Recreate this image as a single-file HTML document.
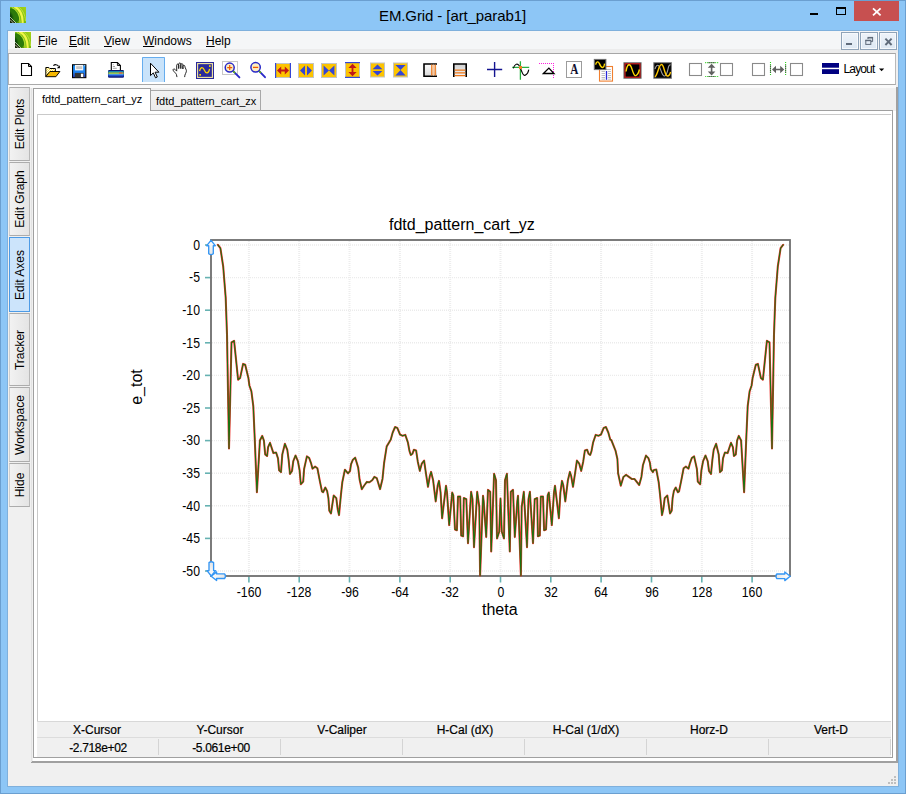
<!DOCTYPE html>
<html><head><meta charset="utf-8"><title>EM.Grid - [art_parab1]</title>
<style>
html,body{margin:0;padding:0;}
body{width:906px;height:794px;overflow:hidden;background:#8dc6f6;font-family:"Liberation Sans",sans-serif;color:#000;position:relative;}
.a{position:absolute;box-sizing:border-box;}
.t{position:absolute;white-space:pre;line-height:1;}
svg{position:absolute;overflow:visible;}
.vt{position:absolute;left:8.5px;width:21px;box-sizing:border-box;border:1px solid #acacac;border-left-color:#cfcfcf;border-right-color:#b8b8b8;background:linear-gradient(90deg,#f2f2f2,#e4e4e4);}
.vt span{position:absolute;left:calc(50% + 1px);top:50%;white-space:pre;font-size:12px;line-height:1;transform:translate(-50%,-50%) rotate(-90deg);}
.hd{position:absolute;top:724px;-webkit-text-stroke:0.2px #000;font-size:12px;line-height:1;white-space:pre;transform:translateX(-50%);}
.vl{position:absolute;top:742px;-webkit-text-stroke:0.2px #000;font-size:12px;line-height:1;white-space:pre;transform:translateX(-50%);letter-spacing:-0.35px}
.sep{position:absolute;top:739px;width:1px;height:16px;background:#d4d4d4;}
</style></head><body>

<div class="a" style="left:0;top:0;width:906px;height:794px;border:1px solid #6b9fd0;"></div>
<div class="a" style="left:7px;top:30px;width:892px;height:757px;background:#f0f0f0;border:1px solid #7fb0dc;"></div>
<div class="t" style="left:379px;top:8px;font-size:15px;letter-spacing:-0.1px;">EM.Grid - [art_parab1]</div>
<div class="a" style="left:854px;top:1px;width:45px;height:20px;background:#c75050;"></div>
<svg style="left:871px;top:6px" width="12" height="11" viewBox="0 0 12 11"><path d="M2 2.4L9.6 9.4M9.6 2.4L2 9.4" stroke="#fff" stroke-width="1.8" fill="none"/></svg>
<div class="a" style="left:836px;top:7px;width:10px;height:8px;border:1px solid #000;border-top-width:2px;"></div>
<div class="a" style="left:810px;top:12.5px;width:8px;height:2px;background:#000;"></div>
<svg style="left:10px;top:7px" width="16" height="16" viewBox="0 0 16 16">
<defs><linearGradient id="g1" x1="0" y1="1" x2="1" y2="0"><stop offset="0" stop-color="#3f7a08"/><stop offset="0.55" stop-color="#7fc010"/><stop offset="1" stop-color="#a8d418"/></linearGradient>
<radialGradient id="r1" cx="0.1" cy="0.6" r="0.55"><stop offset="0" stop-color="#052a05"/><stop offset="0.7" stop-color="#0c4408"/><stop offset="1" stop-color="#2c7a0a"/></radialGradient>
<clipPath id="c1"><rect width="16" height="16"/></clipPath></defs>
<g clip-path="url(#c1)"><rect width="16" height="16" fill="url(#g1)"/>
<circle cx="1.5" cy="9.5" r="8.2" fill="url(#r1)"/>
<path d="M4.5 -0.5C10 2.5 13 9 12.6 16.5" stroke="#f2f64a" stroke-width="2.2" fill="none"/>
<path d="M2 0.5C7.5 3 10.4 9 10 16.5" stroke="#b4de2c" stroke-width="1.3" fill="none"/>
<path d="M8 -0.5C12.5 2.5 15.5 8 15.4 14" stroke="#d2ec50" stroke-width="0.9" fill="none" opacity="0.8"/>
<path d="M0 10.5L5.5 16H0Z" fill="#1c2a0c"/>
<path d="M0 10L6 16M0 12.6L3.4 16" stroke="#e8f0d8" stroke-width="0.7" fill="none"/>
</g></svg>
<div class="a" style="left:8px;top:31px;width:890px;height:18px;background:#f5f6f7;"></div><div class="a" style="left:8px;top:49px;width:890px;height:4px;background:#ececec;"></div>
<svg style="left:15px;top:32px" width="16" height="16" viewBox="0 0 16 16">
<defs><linearGradient id="g2" x1="0" y1="1" x2="1" y2="0"><stop offset="0" stop-color="#3f7a08"/><stop offset="0.55" stop-color="#7fc010"/><stop offset="1" stop-color="#a8d418"/></linearGradient>
<radialGradient id="r2" cx="0.1" cy="0.6" r="0.55"><stop offset="0" stop-color="#052a05"/><stop offset="0.7" stop-color="#0c4408"/><stop offset="1" stop-color="#2c7a0a"/></radialGradient>
<clipPath id="c2"><rect width="16" height="16"/></clipPath></defs>
<g clip-path="url(#c2)"><rect width="16" height="16" fill="url(#g2)"/>
<circle cx="1.5" cy="9.5" r="8.2" fill="url(#r2)"/>
<path d="M4.5 -0.5C10 2.5 13 9 12.6 16.5" stroke="#f2f64a" stroke-width="2.2" fill="none"/>
<path d="M2 0.5C7.5 3 10.4 9 10 16.5" stroke="#b4de2c" stroke-width="1.3" fill="none"/>
<path d="M8 -0.5C12.5 2.5 15.5 8 15.4 14" stroke="#d2ec50" stroke-width="0.9" fill="none" opacity="0.8"/>
<path d="M0 10.5L5.5 16H0Z" fill="#1c2a0c"/>
<path d="M0 10L6 16M0 12.6L3.4 16" stroke="#e8f0d8" stroke-width="0.7" fill="none"/>
</g></svg>
<div class="t" style="left:38px;top:35px;font-size:12px;"><u>F</u>ile</div>
<div class="t" style="left:69px;top:35px;font-size:12px;"><u>E</u>dit</div>
<div class="t" style="left:104px;top:35px;font-size:12px;"><u>V</u>iew</div>
<div class="t" style="left:143px;top:35px;font-size:12px;"><u>W</u>indows</div>
<div class="t" style="left:206px;top:35px;font-size:12px;"><u>H</u>elp</div>
<div class="a" style="left:841px;top:32px;width:18px;height:18px;border:1px solid #8fa3b8;background:linear-gradient(#eef3f9,#dde8f3);box-shadow:inset 0 0 0 1px #f6f9fc;"></div>
<div class="a" style="left:860px;top:32px;width:18px;height:18px;border:1px solid #8fa3b8;background:linear-gradient(#eef3f9,#dde8f3);box-shadow:inset 0 0 0 1px #f6f9fc;"></div>
<div class="a" style="left:879px;top:32px;width:18px;height:18px;border:1px solid #8fa3b8;background:linear-gradient(#eef3f9,#dde8f3);box-shadow:inset 0 0 0 1px #f6f9fc;"></div>
<div class="a" style="left:846px;top:43px;width:6px;height:2px;background:#5f6b7a;"></div>
<svg style="left:864px;top:36px" width="10" height="10" viewBox="0 0 10 10"><path d="M4 3V1.8H8.6V5.6H7" stroke="#5f6b7a" stroke-width="1" fill="none"/><path d="M3.5 1.6H9.1" stroke="#5f6b7a" stroke-width="1.4"/><rect x="1.8" y="4.6" width="5" height="3.8" fill="none" stroke="#5f6b7a" stroke-width="1"/><path d="M1.3 4.4H7.3" stroke="#5f6b7a" stroke-width="1.4"/></svg>
<svg style="left:884px;top:37px" width="9" height="9" viewBox="0 0 9 9"><path d="M1.4 1.6L7.6 8M7.6 1.6L1.4 8" stroke="#5f6b7a" stroke-width="1.9" fill="none"/></svg>
<div class="a" style="left:8px;top:53px;width:888px;height:32px;background:#fff;border-top:1px solid #a6a6a6;border-bottom:1px solid #a9a9a9;border-right:1px solid #b9b9b9;border-left:1px solid #b4b4b4;"></div>
<div class="a" style="left:8px;top:85px;width:888px;height:3px;background:#fafafa;"></div>
<svg style="left:0;top:0" width="906" height="90" viewBox="0 0 906 90">
<path d="M21.5 63.5H28.5L31.5 66.5V75.5H21.5Z" fill="#fff" stroke="#000" stroke-width="1.1"/><path d="M28.5 63.5V66.5H31.5" fill="none" stroke="#000" stroke-width="1"/>
<defs><pattern id="chk" width="2" height="2" patternUnits="userSpaceOnUse"><rect width="2" height="2" fill="#ffe23c"/><rect width="1" height="1" fill="#fff"/><rect x="1" y="1" width="1" height="1" fill="#fff"/></pattern><linearGradient id="fl" x1="0" y1="0" x2="0" y2="1"><stop offset="0" stop-color="#1e98ff"/><stop offset="0.6" stop-color="#1e80f0"/><stop offset="1" stop-color="#2c38c4"/></linearGradient></defs>
<g transform="translate(45,64)"><path d="M0.8 12.6V3.5H3.8L4.8 4.5H10.4V8" fill="url(#chk)" stroke="#000" stroke-width="1"/><path d="M0.7 12.7L4.9 7.5H14.9L10.9 12.7Z" fill="#f6b800" stroke="#000" stroke-width="0.95" stroke-linejoin="miter"/><path d="M8.4 1.7C9.6 0.3 12.2 0.2 13.5 2.2" fill="none" stroke="#000" stroke-width="1.1"/><path d="M14.9 1.2V4.3H11.8Z" fill="#000"/></g>
<g transform="translate(72,64)"><rect x="0.55" y="0.75" width="13.3" height="12.9" fill="url(#fl)" stroke="#000" stroke-width="1.1"/><rect x="3" y="0.9" width="8.2" height="5.5" fill="#f6f6f6"/><rect x="4.2" y="2.2" width="6" height="2.8" fill="#c6c6c6"/><rect x="12.2" y="1.2" width="1" height="1" fill="#d4eaff"/><rect x="2.8" y="8.9" width="8.9" height="4.5" fill="#363636"/><rect x="8.9" y="9.7" width="2.3" height="3.3" fill="#fff"/></g>
<g transform="translate(108,62)"><path d="M3.3 8.6V0.5H9.4L12.4 3.5V8.6" fill="#fff" stroke="#000" stroke-width="1.1"/><path d="M9.4 0.5V3.5H12.4" fill="none" stroke="#000" stroke-width="0.9"/><path d="M4.8 2.7H5.8M4.8 4.5H7M4.8 6.3H8.8" stroke="#9a9a9a" stroke-width="0.9"/><rect x="0" y="7.9" width="16" height="7.9" rx="1.3" fill="#0e1870"/><rect x="0.3" y="9.3" width="15.4" height="1.1" fill="#18b8cc"/><rect x="0.3" y="10.4" width="15.4" height="1.5" fill="#b4dc40"/><rect x="11" y="10.4" width="3.4" height="1.2" fill="#e84848"/><rect x="0.3" y="11.9" width="15.4" height="1" fill="#58acf0"/><rect x="0.3" y="12.9" width="15.4" height="1.5" fill="#2252d4"/></g>
<rect x="142" y="57" width="23" height="25" fill="#c9e3fa"/><path d="M142.5 82V57.5H164.5V82" fill="none" stroke="#66adee" stroke-width="1"/>
<path d="M150.5 63.2V75.6L153.3 72.9L155.5 77.8L157.3 77L155.1 72.2H158.9Z" fill="#fff" stroke="#000" stroke-width="1" stroke-linejoin="miter"/>
<g transform="translate(172,62)" fill="#fff" stroke="#1a1a1a" stroke-width="0.95" stroke-linejoin="round" stroke-linecap="round"><path d="M4.9 14.7L4.4 12.4C3.6 10.8 1.7 9.7 1.1 8.2C0.8 7.1 2.0 6.5 2.9 7.3L4.7 9.1V3.2C4.7 1.7 6.7 1.7 6.7 3.2V6.6V2.1C6.7 0.6 8.8 0.6 8.8 2.1V6.6V2.7C8.8 1.3 10.9 1.3 10.9 2.7V7V4.4C10.9 3.0 12.9 3.0 12.9 4.4C13.1 6.6 14.9 7.6 14.3 9.8C13.9 11.2 13.1 12.2 12.9 13.2L12.7 14.7"/></g>
<g transform="translate(196,62)"><rect x="0" y="0" width="18" height="17" fill="#2a2a9c"/><rect x="1.6" y="1.6" width="14.8" height="13.8" fill="none" stroke="#f6eaa0" stroke-width="1.1"/><path d="M3.6 9.2C4.4 4.6 6.8 4.4 8.4 8.2C10 12 12.4 12.2 13.6 6.8" fill="none" stroke="#ffd800" stroke-width="1.25"/><rect x="13" y="3.2" width="1.7" height="1.7" fill="#ffd800"/><rect x="3.3" y="12" width="1.7" height="1.7" fill="#ffd800"/></g>
<rect x="222.5" y="61.5" width="15" height="13" fill="#fff" stroke="#c8c8c8" stroke-width="1"/>
<path d="M233.2 71.2L239.4 77.4" stroke="#2a2ac8" stroke-width="1.9" stroke-linecap="round"/><path d="M233 71L235 73" stroke="#60c000" stroke-width="1.5"/>
<circle cx="229.7" cy="67.6" r="4.5" fill="#fdeec0" stroke="#2828c8" stroke-width="1.5"/>
<path d="M227.2 67.6H232.2M229.7 65.1V70.1" stroke="#f05a00" stroke-width="1.2"/>
<path d="M259.2 71.2L265 77.2" stroke="#2a2ac8" stroke-width="1.9" stroke-linecap="round"/><path d="M258.8 70.8L260.8 72.8" stroke="#60c000" stroke-width="1.5"/>
<circle cx="255.6" cy="67.3" r="4.7" fill="#fdeec0" stroke="#2828c8" stroke-width="1.5"/>
<path d="M253 67.4H258.2" stroke="#f05a00" stroke-width="1.3"/>
<rect x="275" y="63" width="16" height="15" fill="#c4c4c4"/><rect x="276" y="64" width="14" height="13" fill="#fdc400"/><rect x="275" y="63" width="1.2" height="15" fill="#3446d6"/><rect x="289.8" y="63" width="1.2" height="15" fill="#3446d6"/><path d="M277 70.5L281.2 66.4V69.6H284.8V66.4L289 70.5L284.8 74.6V71.4H281.2V74.6Z" fill="#c01818"/>
<rect x="298" y="63" width="16" height="15" fill="#c4c4c4"/><rect x="299" y="64" width="14" height="13" fill="#fdc400"/><path d="M300 70.5L305 65.6V75.4Z M312 70.5L307 65.6V75.4Z" fill="#3446d6"/>
<rect x="321" y="63" width="16" height="15" fill="#c4c4c4"/><rect x="322" y="64" width="14" height="13" fill="#fdc400"/><path d="M323.6 65.4L329 70.5L323.6 75.6Z M334.4 65.4L329 70.5L334.4 75.6Z" fill="#3446d6"/>
<rect x="345" y="62" width="15" height="16" fill="#c4c4c4"/><rect x="346" y="63" width="13" height="14" fill="#fdc400"/><rect x="345" y="62" width="15" height="1.2" fill="#3446d6"/><rect x="345" y="76.8" width="15" height="1.2" fill="#3446d6"/><path d="M352.5 63.8L356.6 68V68H353.4V72H356.6L352.5 76.2L348.4 72H351.6V68H348.4Z" fill="#c01818"/>
<rect x="370" y="62.5" width="15" height="15" fill="#c4c4c4"/><rect x="371" y="63.5" width="13" height="13" fill="#fdc400"/><path d="M377.5 64.6L382.4 69.2H372.6Z M377.5 75.6L382.4 71H372.6Z" fill="#3446d6"/>
<rect x="393" y="62.5" width="15" height="15" fill="#c4c4c4"/><rect x="394" y="63.5" width="13" height="13" fill="#fdc400"/><path d="M395.4 65H405.6L400.5 70Z M395.4 75.4H405.6L400.5 70Z" fill="#3446d6"/>
<defs><linearGradient id="gv" x1="0" y1="0" x2="0" y2="1"><stop offset="0" stop-color="#fff"/><stop offset="1" stop-color="#d8d8d8"/></linearGradient><linearGradient id="gh" x1="0" y1="0" x2="0" y2="1"><stop offset="0" stop-color="#d0d0d0"/><stop offset="1" stop-color="#f4f4f4"/></linearGradient></defs>
<rect x="424" y="64" width="13" height="12" fill="url(#gv)"/><path d="M437 64H424V76.2H437" fill="none" stroke="#000" stroke-width="1.6"/><path d="M431.8 64.6V75.6M435.2 64.6V75.6" stroke="#f07818" stroke-width="1.3"/><path d="M433.5 64.6V75.6" stroke="#f9c9a0" stroke-width="1"/>
<rect x="454" y="64" width="12" height="12.5" fill="url(#gh)"/><path d="M453.8 77V64H466.2V77" fill="none" stroke="#000" stroke-width="1.6"/><path d="M454.6 70.1H465.4M454.6 72.9H465.4M454.6 75.6H465.4" stroke="#f07818" stroke-width="1.2"/>
<path d="M487 69.5H502.2M494.6 62V77" stroke="#141490" stroke-width="1.4"/>
<path d="M520.4 61.3V79.8M512.2 67.3H529.2" stroke="#28b040" stroke-width="1.3"/><path d="M513.3 68.4C514.6 64.4 517.2 62.6 519.2 65.8C521.6 69.6 522.6 76.6 525.2 75.2C527.2 74.2 528.4 72 528.8 69.6" fill="none" stroke="#000" stroke-width="1.05"/><rect x="519" y="66" width="3" height="3" fill="#f08020"/>
<path d="M539 63.5H554" stroke="#ff20e0" stroke-width="1" stroke-dasharray="1,1"/><path d="M553.5 63V78" stroke="#ff20e0" stroke-width="1" stroke-dasharray="1,1"/><path d="M543.4 73.5L548.9 68.1L554 73.5Z" fill="#fff" stroke="#000" stroke-width="1.3" stroke-linejoin="miter"/>
<rect x="566.5" y="61.5" width="15" height="16" fill="#fff" stroke="#9c9c9c" stroke-width="1"/>
<text transform="translate(574.2,73.7) scale(0.8,1)" x="0" y="0" font-family="Liberation Serif" font-weight="bold" font-size="14" text-anchor="middle" fill="#101030">A</text>
<rect x="599.5" y="66.5" width="13" height="14.6" fill="#fff" stroke="#f08030" stroke-width="1.1"/><path d="M601.5 71.5H605M601.5 73.5H605M601.5 75.5H605M601.5 77.5H605M601.5 79.2H605M608 71.5H611M608 73.5H611M608 75.5H611M608 77.5H611M608 79.2H611M603 69.5H611" stroke="#b8b8b8" stroke-width="0.9"/><path d="M606.5 71V79.8" stroke="#2828d8" stroke-width="1.3"/><rect x="594.3" y="59.4" width="11.6" height="10.2" fill="#000" stroke="#707070" stroke-width="1"/><path d="M595.6 64.6C596.4 61.4 598.2 61 599.4 63.6C600.6 66.4 601.4 68 603 67.4C604 67 604.4 65 604.6 63.6" fill="none" stroke="#ffd800" stroke-width="1.4"/>
<rect x="623.9" y="62.7" width="17.2" height="15.6" fill="#000" stroke="#808080" stroke-width="1"/><rect x="625" y="63.8" width="15" height="13.4" fill="none" stroke="#e02020" stroke-width="1.1"/><path d="M626 71.5C626.8 66 628.2 64.2 629.8 65C632 66 632.6 74 634.8 75.4C636.8 76.6 638.6 73 639.4 69.5" fill="none" stroke="#ffd800" stroke-width="1.4"/>
<rect x="653.8" y="62.7" width="17.6" height="15.6" fill="#000" stroke="#808080" stroke-width="1"/><path d="M655 69C656 65.4 657.4 64.6 658.6 65.6C660.6 67.4 661.4 74.4 663.8 75.8C665.8 76.8 667.6 72 668.4 67.4C668.8 65.6 669.6 64.6 670.6 65" fill="none" stroke="#a0a0a0" stroke-width="1.1"/><path d="M655 77C657 75 658.2 70 659.2 67.2C660.4 64 662 63.8 663 66C664.4 69 665 74.6 667 75.8C668.8 76.8 670 74 670.6 72" fill="none" stroke="#ffc800" stroke-width="1.4"/>
<rect x="689.5" y="63.5" width="12" height="12" fill="#fff" stroke="#8a8a8a" stroke-width="1.1"/>
<rect x="720.5" y="63.5" width="12" height="12" fill="#fff" stroke="#8a8a8a" stroke-width="1.1"/>
<rect x="752.5" y="63.5" width="12" height="12" fill="#fff" stroke="#8a8a8a" stroke-width="1.1"/>
<rect x="790.5" y="63.5" width="12" height="12" fill="#fff" stroke="#8a8a8a" stroke-width="1.1"/>
<path d="M705.2 62.6H718.4M705.2 76.5H718.4" stroke="#30d020" stroke-width="1.1" stroke-dasharray="1,1"/><path d="M708.5 62.6H715M708.5 76.5H715" stroke="#303030" stroke-width="1.1" stroke-dasharray="1,1"/><path d="M711.6 63.8L715.4 67.8H712.4V71.6H715.4L711.6 75.6L707.8 71.6H710.8V67.8H707.8Z" fill="#606060"/>
<path d="M770.5 62V75.5M785.6 62V75.5" stroke="#30d020" stroke-width="1.1" stroke-dasharray="1,1"/><path d="M770.5 65.5V72.5M785.6 65.5V72.5" stroke="#303030" stroke-width="1.1" stroke-dasharray="1,1"/><path d="M772 69.5L776 65.7V68.7H780.2V65.7L784.2 69.5L780.2 73.3V70.3H776V73.3Z" fill="#606060"/>
<rect x="822" y="63" width="17" height="4.7" fill="#000080"/><rect x="822" y="69.2" width="17" height="4.8" fill="#000080"/>
<path d="M879 68.4H884.2L881.6 71.2Z" fill="#000"/>
</svg>
<div class="t" style="left:843.5px;top:63px;font-size:12px;letter-spacing:-0.85px;">Layout</div>
<div class="vt" style="top:87px;height:74px;"><span>Edit Plots</span></div>
<div class="vt" style="top:162px;height:74px;"><span>Edit Graph</span></div>
<div class="vt" style="top:237px;height:75px;background:#cce4fb;border-color:#4d9be6;"><span>Edit Axes</span></div>
<div class="vt" style="top:313px;height:73px;"><span>Tracker</span></div>
<div class="vt" style="top:387px;height:75px;"><span>Workspace</span></div>
<div class="vt" style="top:463px;height:44px;"><span>Hide</span></div>
<div class="a" style="left:896px;top:87px;width:2px;height:676px;background:#a0a0a0;"></div>
<div class="a" style="left:31px;top:761px;width:867px;height:2px;background:#a0a0a0;"></div>
<div class="a" style="left:31px;top:88px;width:1px;height:674px;background:#e3e3e3;"></div>
<div class="a" style="left:33px;top:110px;width:860px;height:648px;background:#fff;border:1px solid #a0a0a0;"></div>
<div class="a" style="left:893px;top:111px;width:3px;height:650px;background:#fff;"></div>
<div class="a" style="left:33px;top:758px;width:863px;height:3px;background:#fff;"></div>
<div class="a" style="left:150px;top:90px;width:111px;height:21px;background:linear-gradient(#f3f3f3,#ebebeb);border:1px solid #a8a8a8;"></div>
<div class="t" style="left:156px;top:96px;font-size:11px;">fdtd_pattern_cart_zx</div>
<div class="a" style="left:33px;top:88px;width:118px;height:23px;background:#fff;border:1px solid #a0a0a0;border-bottom:none;"></div>
<div class="t" style="left:42px;top:94px;font-size:11px;">fdtd_pattern_cart_yz</div>
<div class="a" style="left:37px;top:114px;width:854px;height:607px;border-top:1px solid #c9c9c9;border-left:1px solid #c9c9c9;"></div>
<div class="a" style="left:37px;top:721px;width:854px;height:36px;background:#f0f0f0;border-top:1px solid #d8d8d8;"></div>
<div class="a" style="left:37px;top:737px;width:854px;height:1px;background:#dcdcdc;"></div>
<div class="hd" style="left:97px">X-Cursor</div>
<div class="hd" style="left:220px">Y-Cursor</div>
<div class="hd" style="left:342px">V-Caliper</div>
<div class="hd" style="left:465px">H-Cal (dX)</div>
<div class="hd" style="left:586px">H-Cal (1/dX)</div>
<div class="hd" style="left:709px">Horz-D</div>
<div class="hd" style="left:831px">Vert-D</div>
<div class="vl" style="left:98px">-2.718e+02</div>
<div class="vl" style="left:221px">-5.061e+00</div>
<div class="sep" style="left:158px"></div>
<div class="sep" style="left:280px"></div>
<div class="sep" style="left:402px"></div>
<div class="sep" style="left:524px"></div>
<div class="sep" style="left:646px"></div>
<div class="sep" style="left:768px"></div>
<div class="sep" style="left:890px"></div>
<svg style="left:888px;top:776px" width="8" height="8"><rect x="6" y="0" width="2" height="2" fill="#bfbfbf"/><rect x="3" y="3" width="2" height="2" fill="#bfbfbf"/><rect x="6" y="3" width="2" height="2" fill="#bfbfbf"/><rect x="0" y="6" width="2" height="2" fill="#bfbfbf"/><rect x="3" y="6" width="2" height="2" fill="#bfbfbf"/><rect x="6" y="6" width="2" height="2" fill="#bfbfbf"/></svg>
<svg style="left:0;top:0" width="906" height="794" viewBox="0 0 906 794"><defs><linearGradient id="ag" x1="0" y1="0" x2="0" y2="1"><stop offset="0" stop-color="#ffffff"/><stop offset="1" stop-color="#e4e4e4"/></linearGradient></defs>
<line x1="248.9" y1="241" x2="248.9" y2="575" stroke="#ededed" stroke-width="2" stroke-dasharray="1,1"/>
<line x1="248.9" y1="576" x2="248.9" y2="582.5" stroke="#66b2b2" stroke-width="1.6"/>
<line x1="299.2" y1="241" x2="299.2" y2="575" stroke="#ededed" stroke-width="2" stroke-dasharray="1,1"/>
<line x1="299.2" y1="576" x2="299.2" y2="582.5" stroke="#66b2b2" stroke-width="1.6"/>
<line x1="349.5" y1="241" x2="349.5" y2="575" stroke="#ededed" stroke-width="2" stroke-dasharray="1,1"/>
<line x1="349.5" y1="576" x2="349.5" y2="582.5" stroke="#66b2b2" stroke-width="1.6"/>
<line x1="399.9" y1="241" x2="399.9" y2="575" stroke="#ededed" stroke-width="2" stroke-dasharray="1,1"/>
<line x1="399.9" y1="576" x2="399.9" y2="582.5" stroke="#66b2b2" stroke-width="1.6"/>
<line x1="450.2" y1="241" x2="450.2" y2="575" stroke="#ededed" stroke-width="2" stroke-dasharray="1,1"/>
<line x1="450.2" y1="576" x2="450.2" y2="582.5" stroke="#66b2b2" stroke-width="1.6"/>
<line x1="500.5" y1="241" x2="500.5" y2="575" stroke="#ededed" stroke-width="2" stroke-dasharray="1,1"/>
<line x1="500.5" y1="576" x2="500.5" y2="582.5" stroke="#66b2b2" stroke-width="1.6"/>
<line x1="550.8" y1="241" x2="550.8" y2="575" stroke="#ededed" stroke-width="2" stroke-dasharray="1,1"/>
<line x1="550.8" y1="576" x2="550.8" y2="582.5" stroke="#66b2b2" stroke-width="1.6"/>
<line x1="601.1" y1="241" x2="601.1" y2="575" stroke="#ededed" stroke-width="2" stroke-dasharray="1,1"/>
<line x1="601.1" y1="576" x2="601.1" y2="582.5" stroke="#66b2b2" stroke-width="1.6"/>
<line x1="651.5" y1="241" x2="651.5" y2="575" stroke="#ededed" stroke-width="2" stroke-dasharray="1,1"/>
<line x1="651.5" y1="576" x2="651.5" y2="582.5" stroke="#66b2b2" stroke-width="1.6"/>
<line x1="701.8" y1="241" x2="701.8" y2="575" stroke="#ededed" stroke-width="2" stroke-dasharray="1,1"/>
<line x1="701.8" y1="576" x2="701.8" y2="582.5" stroke="#66b2b2" stroke-width="1.6"/>
<line x1="752.1" y1="241" x2="752.1" y2="575" stroke="#ededed" stroke-width="2" stroke-dasharray="1,1"/>
<line x1="752.1" y1="576" x2="752.1" y2="582.5" stroke="#66b2b2" stroke-width="1.6"/>
<line x1="212" y1="245.0" x2="789" y2="245.0" stroke="#ebebeb" stroke-width="1.4" stroke-dasharray="1,1"/>
<line x1="205" y1="245.0" x2="210.5" y2="245.0" stroke="#66b2b2" stroke-width="1.6"/>
<line x1="212" y1="277.6" x2="789" y2="277.6" stroke="#ebebeb" stroke-width="1.4" stroke-dasharray="1,1"/>
<line x1="205" y1="277.6" x2="210.5" y2="277.6" stroke="#66b2b2" stroke-width="1.6"/>
<line x1="212" y1="310.2" x2="789" y2="310.2" stroke="#ebebeb" stroke-width="1.4" stroke-dasharray="1,1"/>
<line x1="205" y1="310.2" x2="210.5" y2="310.2" stroke="#66b2b2" stroke-width="1.6"/>
<line x1="212" y1="342.8" x2="789" y2="342.8" stroke="#ebebeb" stroke-width="1.4" stroke-dasharray="1,1"/>
<line x1="205" y1="342.8" x2="210.5" y2="342.8" stroke="#66b2b2" stroke-width="1.6"/>
<line x1="212" y1="375.4" x2="789" y2="375.4" stroke="#ebebeb" stroke-width="1.4" stroke-dasharray="1,1"/>
<line x1="205" y1="375.4" x2="210.5" y2="375.4" stroke="#66b2b2" stroke-width="1.6"/>
<line x1="212" y1="408.0" x2="789" y2="408.0" stroke="#ebebeb" stroke-width="1.4" stroke-dasharray="1,1"/>
<line x1="205" y1="408.0" x2="210.5" y2="408.0" stroke="#66b2b2" stroke-width="1.6"/>
<line x1="212" y1="440.6" x2="789" y2="440.6" stroke="#ebebeb" stroke-width="1.4" stroke-dasharray="1,1"/>
<line x1="205" y1="440.6" x2="210.5" y2="440.6" stroke="#66b2b2" stroke-width="1.6"/>
<line x1="212" y1="473.2" x2="789" y2="473.2" stroke="#ebebeb" stroke-width="1.4" stroke-dasharray="1,1"/>
<line x1="205" y1="473.2" x2="210.5" y2="473.2" stroke="#66b2b2" stroke-width="1.6"/>
<line x1="212" y1="505.8" x2="789" y2="505.8" stroke="#ebebeb" stroke-width="1.4" stroke-dasharray="1,1"/>
<line x1="205" y1="505.8" x2="210.5" y2="505.8" stroke="#66b2b2" stroke-width="1.6"/>
<line x1="212" y1="538.4" x2="789" y2="538.4" stroke="#ebebeb" stroke-width="1.4" stroke-dasharray="1,1"/>
<line x1="205" y1="538.4" x2="210.5" y2="538.4" stroke="#66b2b2" stroke-width="1.6"/>
<line x1="212" y1="571.0" x2="789" y2="571.0" stroke="#ebebeb" stroke-width="1.4" stroke-dasharray="1,1"/>
<line x1="205" y1="571.0" x2="210.5" y2="571.0" stroke="#66b2b2" stroke-width="1.6"/>
<rect x="211" y="240" width="579" height="336" fill="none" stroke="#6e6e6e" stroke-width="1.8"/>
<polyline points="217.9,244.9 220.4,248.2 223.2,266.5 225.7,297.9 227.0,334.3 229.0,448.4 231.5,342.4 234.1,340.8 238.1,379.7 240.1,378.0 243.1,363.9 245.2,364.8 248.4,378.0 249.4,385.5 251.4,391.3 253.3,406.2 254.7,437.6 256.9,492.2 259.9,440.5 262.2,435.9 263.9,440.5 265.2,454.4 267.1,456.0 268.1,447.2 270.0,442.8 273.4,453.1 276.1,452.5 278.0,458.4 279.1,470.3 281.0,472.1 282.3,454.4 284.9,443.8 287.3,449.8 288.6,459.7 290.0,474.0 292.0,471.0 293.3,461.1 295.5,455.5 297.9,461.1 299.6,470.3 300.8,484.2 303.2,481.6 304.1,469.0 306.9,456.4 309.2,458.0 311.2,463.7 312.5,468.7 315.1,466.6 317.4,468.3 319.8,480.9 322.0,491.5 323.1,492.2 325.3,487.5 327.1,490.9 328.4,498.1 329.3,510.7 331.0,513.4 333.7,495.5 336.3,498.1 337.6,508.7 339.0,515.1 341.0,494.2 342.3,482.3 344.9,469.7 348.0,473.4 350.0,471.0 351.0,464.3 352.9,459.7 355.2,457.7 358.2,467.6 359.6,479.5 361.8,489.2 364.2,485.5 366.9,481.9 369.5,482.2 372.2,480.2 374.4,476.9 376.8,478.2 380.1,489.1 382.5,478.9 384.1,463.0 386.7,446.4 390.7,439.8 392.7,432.5 395.1,427.0 397.3,427.9 400.0,434.5 402.6,435.8 405.3,434.9 407.9,442.5 409.5,451.1 410.8,455.0 412.5,453.7 413.9,449.7 416.1,450.4 417.8,461.7 419.8,470.9 421.8,463.6 424.1,460.6 425.8,472.3 428.0,486.8 429.8,476.2 431.1,471.9 433.1,480.2 435.7,501.4 437.7,485.5 439.0,480.9 440.6,492.5 442.1,518.3 446.0,485.7 447.0,492.5 449.2,525.1 452.2,492.5 453.3,495.4 455.0,529.5 456.9,530.2 458.0,496.6 460.2,496.6 461.2,535.6 463.1,536.3 463.8,498.0 466.3,499.1 468.0,543.3 471.1,491.8 472.5,499.1 474.0,547.3 477.2,491.8 479.3,507.0 480.1,575.5 483.0,495.7 483.7,501.2 486.2,537.0 488.0,489.9 490.2,491.8 491.2,551.5 494.1,473.7 496.0,480.2 497.0,538.5 499.2,531.7 500.5,498.6 501.8,531.7 504.0,538.5 505.0,480.2 506.9,473.7 509.8,551.5 510.8,491.8 513.0,489.9 514.8,537.0 517.3,501.2 518.0,495.7 520.9,575.5 521.7,507.0 523.8,491.8 527.0,547.3 528.5,499.1 529.9,491.8 533.0,543.3 534.7,499.1 537.2,498.0 537.9,536.3 539.8,535.6 540.8,496.6 543.0,496.6 544.1,530.2 546.0,529.5 547.7,495.4 548.8,492.5 551.8,525.1 554.0,492.5 555.0,485.7 558.9,518.3 560.4,492.5 562.0,480.9 563.3,485.5 565.3,501.4 567.9,480.2 569.9,471.9 571.2,476.2 573.0,486.8 575.2,472.3 576.9,460.6 579.2,463.6 581.2,470.9 583.2,461.7 584.9,450.4 587.1,449.7 588.5,453.7 590.2,455.0 591.5,451.1 593.1,442.5 595.7,434.9 598.4,435.8 601.0,434.5 603.7,427.9 605.9,427.0 608.3,432.5 610.3,439.8 611.3,440.0 615.5,450.6 617.4,458.9 618.1,473.3 620.8,485.7 623.4,477.0 626.1,474.8 631.7,478.9 634.4,478.9 639.2,485.0 641.4,477.0 642.9,465.3 646.0,455.6 648.4,458.1 649.9,462.7 650.8,469.1 652.9,472.1 654.0,469.9 656.3,469.6 658.7,482.3 660.0,494.2 662.0,515.1 663.4,508.7 664.7,498.1 667.3,495.5 670.0,513.4 671.7,510.7 672.6,498.1 673.9,490.9 675.7,487.5 677.9,492.2 679.0,491.5 681.2,480.9 683.6,468.3 685.9,466.6 688.5,468.7 689.8,463.7 691.8,458.0 694.1,456.4 696.9,469.0 697.8,481.6 700.2,484.2 701.4,470.3 703.1,461.1 705.5,455.5 707.7,461.1 709.0,471.0 711.0,474.0 712.4,459.7 713.7,449.8 716.1,443.8 718.7,454.4 720.0,472.1 721.9,470.3 723.0,458.4 724.9,452.5 727.6,453.1 731.0,442.8 732.9,447.2 733.9,456.0 735.8,454.4 737.1,440.5 738.8,435.9 741.1,440.5 744.1,492.2 746.3,437.6 747.7,406.2 749.6,391.3 751.6,385.5 752.6,378.0 755.8,364.8 757.9,363.9 760.9,378.0 762.9,379.7 766.9,340.8 769.5,342.4 772.0,448.4 774.0,334.3 775.3,297.9 777.8,266.5 780.6,248.2 783.1,244.9" fill="none" stroke="#ea241c" stroke-width="2.05" stroke-linejoin="round" stroke-linecap="round" opacity="0.95"/>
<polyline points="217.9,244.9 220.4,248.2 223.2,266.5 225.7,297.9 227.0,334.3 229.0,448.4 231.5,342.4 234.1,340.8 238.1,379.7 240.1,378.0 243.1,363.9 245.2,364.8 248.4,378.0 249.4,385.5 251.4,391.3 253.3,406.2 254.7,437.6 256.9,492.2 259.9,440.5 262.2,435.9 263.9,440.5 265.2,454.4 267.1,456.0 268.1,447.2 270.0,442.8 273.4,453.1 276.1,452.5 278.0,458.4 279.1,470.3 281.0,472.1 282.3,454.4 284.9,443.8 287.3,449.8 288.6,459.7 290.0,474.0 292.0,471.0 293.3,461.1 295.5,455.5 297.9,461.1 299.6,470.3 300.8,484.2 303.2,481.6 304.1,469.0 306.9,456.4 309.2,458.0 311.2,463.7 312.5,468.7 315.1,466.6 317.4,468.3 319.8,480.9 322.0,491.5 323.1,492.2 325.3,487.5 327.1,490.9 328.4,498.1 329.3,510.7 331.0,513.4 333.7,495.5 336.3,498.1 337.6,508.7 339.0,515.1 341.0,494.2 342.3,482.3 344.9,469.7 348.0,473.4 350.0,471.0 351.0,464.3 352.9,459.7 355.2,457.7 358.2,467.6 359.6,479.5 361.8,489.2 364.2,485.5 366.9,481.9 369.5,482.2 372.2,480.2 374.4,476.9 376.8,478.2 380.1,489.1 382.5,478.9 384.1,463.0 386.7,446.4 390.7,439.8 392.7,432.5 395.1,427.0 397.3,427.9 400.0,434.5 402.6,435.8 405.3,434.9 407.9,442.5 409.5,451.1 410.8,455.0 412.5,453.7 413.9,449.7 416.1,450.4 417.8,461.7 419.8,470.9 421.8,463.6 424.1,460.6 425.8,472.3 428.0,486.8 429.8,476.2 431.1,471.9 433.1,480.2 435.7,501.4 437.7,485.5 439.0,480.9 440.6,492.5 442.1,518.3 446.0,485.7 447.0,492.5 449.2,525.1 452.2,492.5 453.3,495.4 455.0,529.5 456.9,530.2 458.0,496.6 460.2,496.6 461.2,535.6 463.1,536.3 463.8,498.0 466.3,499.1 468.0,543.3 471.1,491.8 472.5,499.1 474.0,547.3 477.2,491.8 479.3,507.0 480.1,575.5 483.0,495.7 483.7,501.2 486.2,537.0 488.0,489.9 490.2,491.8 491.2,551.5 494.1,473.7 496.0,480.2 497.0,538.5 499.2,531.7 500.5,498.6 501.8,531.7 504.0,538.5 505.0,480.2 506.9,473.7 509.8,551.5 510.8,491.8 513.0,489.9 514.8,537.0 517.3,501.2 518.0,495.7 520.9,575.5 521.7,507.0 523.8,491.8 527.0,547.3 528.5,499.1 529.9,491.8 533.0,543.3 534.7,499.1 537.2,498.0 537.9,536.3 539.8,535.6 540.8,496.6 543.0,496.6 544.1,530.2 546.0,529.5 547.7,495.4 548.8,492.5 551.8,525.1 554.0,492.5 555.0,485.7 558.9,518.3 560.4,492.5 562.0,480.9 563.3,485.5 565.3,501.4 567.9,480.2 569.9,471.9 571.2,476.2 573.0,486.8 575.2,472.3 576.9,460.6 579.2,463.6 581.2,470.9 583.2,461.7 584.9,450.4 587.1,449.7 588.5,453.7 590.2,455.0 591.5,451.1 593.1,442.5 595.7,434.9 598.4,435.8 601.0,434.5 603.7,427.9 605.9,427.0 608.3,432.5 610.3,439.8 611.3,440.0 615.5,450.6 617.4,458.9 618.1,473.3 620.8,485.7 623.4,477.0 626.1,474.8 631.7,478.9 634.4,478.9 639.2,485.0 641.4,477.0 642.9,465.3 646.0,455.6 648.4,458.1 649.9,462.7 650.8,469.1 652.9,472.1 654.0,469.9 656.3,469.6 658.7,482.3 660.0,494.2 662.0,515.1 663.4,508.7 664.7,498.1 667.3,495.5 670.0,513.4 671.7,510.7 672.6,498.1 673.9,490.9 675.7,487.5 677.9,492.2 679.0,491.5 681.2,480.9 683.6,468.3 685.9,466.6 688.5,468.7 689.8,463.7 691.8,458.0 694.1,456.4 696.9,469.0 697.8,481.6 700.2,484.2 701.4,470.3 703.1,461.1 705.5,455.5 707.7,461.1 709.0,471.0 711.0,474.0 712.4,459.7 713.7,449.8 716.1,443.8 718.7,454.4 720.0,472.1 721.9,470.3 723.0,458.4 724.9,452.5 727.6,453.1 731.0,442.8 732.9,447.2 733.9,456.0 735.8,454.4 737.1,440.5 738.8,435.9 741.1,440.5 744.1,492.2 746.3,437.6 747.7,406.2 749.6,391.3 751.6,385.5 752.6,378.0 755.8,364.8 757.9,363.9 760.9,378.0 762.9,379.7 766.9,340.8 769.5,342.4 772.0,448.4 774.0,334.3 775.3,297.9 777.8,266.5 780.6,248.2 783.1,244.9" fill="none" stroke="#187210" stroke-width="1.05" stroke-linejoin="round" stroke-linecap="round"/>
<path d="M0 -6 L4.3 -0.6 L2.3 -0.6 L2.3 7.4 Q0 9.2 -2.3 7.4 L-2.3 -0.6 L-4.3 -0.6 Z" transform="translate(211,246.3) rotate(0)" fill="url(#ag)" stroke="#3596f4" stroke-width="1.35" stroke-linejoin="round"/>
<path d="M0 -6 L4.3 -0.6 L2.3 -0.6 L2.3 7.4 Q0 9.2 -2.3 7.4 L-2.3 -0.6 L-4.3 -0.6 Z" transform="translate(211.3,570) rotate(180)" fill="url(#ag)" stroke="#3596f4" stroke-width="1.35" stroke-linejoin="round"/>
<path d="M0 -6 L4.3 -0.6 L2.3 -0.6 L2.3 7.4 Q0 9.2 -2.3 7.4 L-2.3 -0.6 L-4.3 -0.6 Z" transform="translate(217.2,576.2) rotate(-90)" fill="url(#ag)" stroke="#3596f4" stroke-width="1.35" stroke-linejoin="round"/>
<path d="M0 -6 L4.3 -0.6 L2.3 -0.6 L2.3 7.4 Q0 9.2 -2.3 7.4 L-2.3 -0.6 L-4.3 -0.6 Z" transform="translate(784.2,576.3) rotate(90)" fill="url(#ag)" stroke="#3596f4" stroke-width="1.35" stroke-linejoin="round"/>
</svg>
<div class="t" style="left:248.9px;top:585.5px;font-size:13.33px;transform:translateX(-50%) scale(0.92,1.04)">-160</div>
<div class="t" style="left:299.2px;top:585.5px;font-size:13.33px;transform:translateX(-50%) scale(0.92,1.04)">-128</div>
<div class="t" style="left:349.5px;top:585.5px;font-size:13.33px;transform:translateX(-50%) scale(0.92,1.04)">-96</div>
<div class="t" style="left:399.9px;top:585.5px;font-size:13.33px;transform:translateX(-50%) scale(0.92,1.04)">-64</div>
<div class="t" style="left:450.2px;top:585.5px;font-size:13.33px;transform:translateX(-50%) scale(0.92,1.04)">-32</div>
<div class="t" style="left:500.5px;top:585.5px;font-size:13.33px;transform:translateX(-50%) scale(0.92,1.04)">0</div>
<div class="t" style="left:550.8px;top:585.5px;font-size:13.33px;transform:translateX(-50%) scale(0.92,1.04)">32</div>
<div class="t" style="left:601.1px;top:585.5px;font-size:13.33px;transform:translateX(-50%) scale(0.92,1.04)">64</div>
<div class="t" style="left:651.5px;top:585.5px;font-size:13.33px;transform:translateX(-50%) scale(0.92,1.04)">96</div>
<div class="t" style="left:701.8px;top:585.5px;font-size:13.33px;transform:translateX(-50%) scale(0.92,1.04)">128</div>
<div class="t" style="left:752.1px;top:585.5px;font-size:13.33px;transform:translateX(-50%) scale(0.92,1.04)">160</div>
<div class="t" style="left:120px;width:80px;text-align:right;top:238.8px;font-size:13.33px;transform:scale(0.92,1.05);transform-origin:100% 50%;">0</div>
<div class="t" style="left:120px;width:80px;text-align:right;top:271.4px;font-size:13.33px;transform:scale(0.92,1.05);transform-origin:100% 50%;">-5</div>
<div class="t" style="left:120px;width:80px;text-align:right;top:304.0px;font-size:13.33px;transform:scale(0.92,1.05);transform-origin:100% 50%;">-10</div>
<div class="t" style="left:120px;width:80px;text-align:right;top:336.6px;font-size:13.33px;transform:scale(0.92,1.05);transform-origin:100% 50%;">-15</div>
<div class="t" style="left:120px;width:80px;text-align:right;top:369.2px;font-size:13.33px;transform:scale(0.92,1.05);transform-origin:100% 50%;">-20</div>
<div class="t" style="left:120px;width:80px;text-align:right;top:401.8px;font-size:13.33px;transform:scale(0.92,1.05);transform-origin:100% 50%;">-25</div>
<div class="t" style="left:120px;width:80px;text-align:right;top:434.4px;font-size:13.33px;transform:scale(0.92,1.05);transform-origin:100% 50%;">-30</div>
<div class="t" style="left:120px;width:80px;text-align:right;top:467.0px;font-size:13.33px;transform:scale(0.92,1.05);transform-origin:100% 50%;">-35</div>
<div class="t" style="left:120px;width:80px;text-align:right;top:499.6px;font-size:13.33px;transform:scale(0.92,1.05);transform-origin:100% 50%;">-40</div>
<div class="t" style="left:120px;width:80px;text-align:right;top:532.2px;font-size:13.33px;transform:scale(0.92,1.05);transform-origin:100% 50%;">-45</div>
<div class="t" style="left:120px;width:80px;text-align:right;top:564.8px;font-size:13.33px;transform:scale(0.92,1.05);transform-origin:100% 50%;">-50</div>
<div class="t" style="left:389px;top:217px;font-size:16px;">fdtd_pattern_cart_yz</div>
<div class="t" style="left:482px;top:601.5px;font-size:16px;">theta</div>
<div class="t" style="left:137.2px;top:387px;font-size:16px;transform:translate(-50%,-50%) rotate(-90deg)">e_tot</div>
</body></html>
